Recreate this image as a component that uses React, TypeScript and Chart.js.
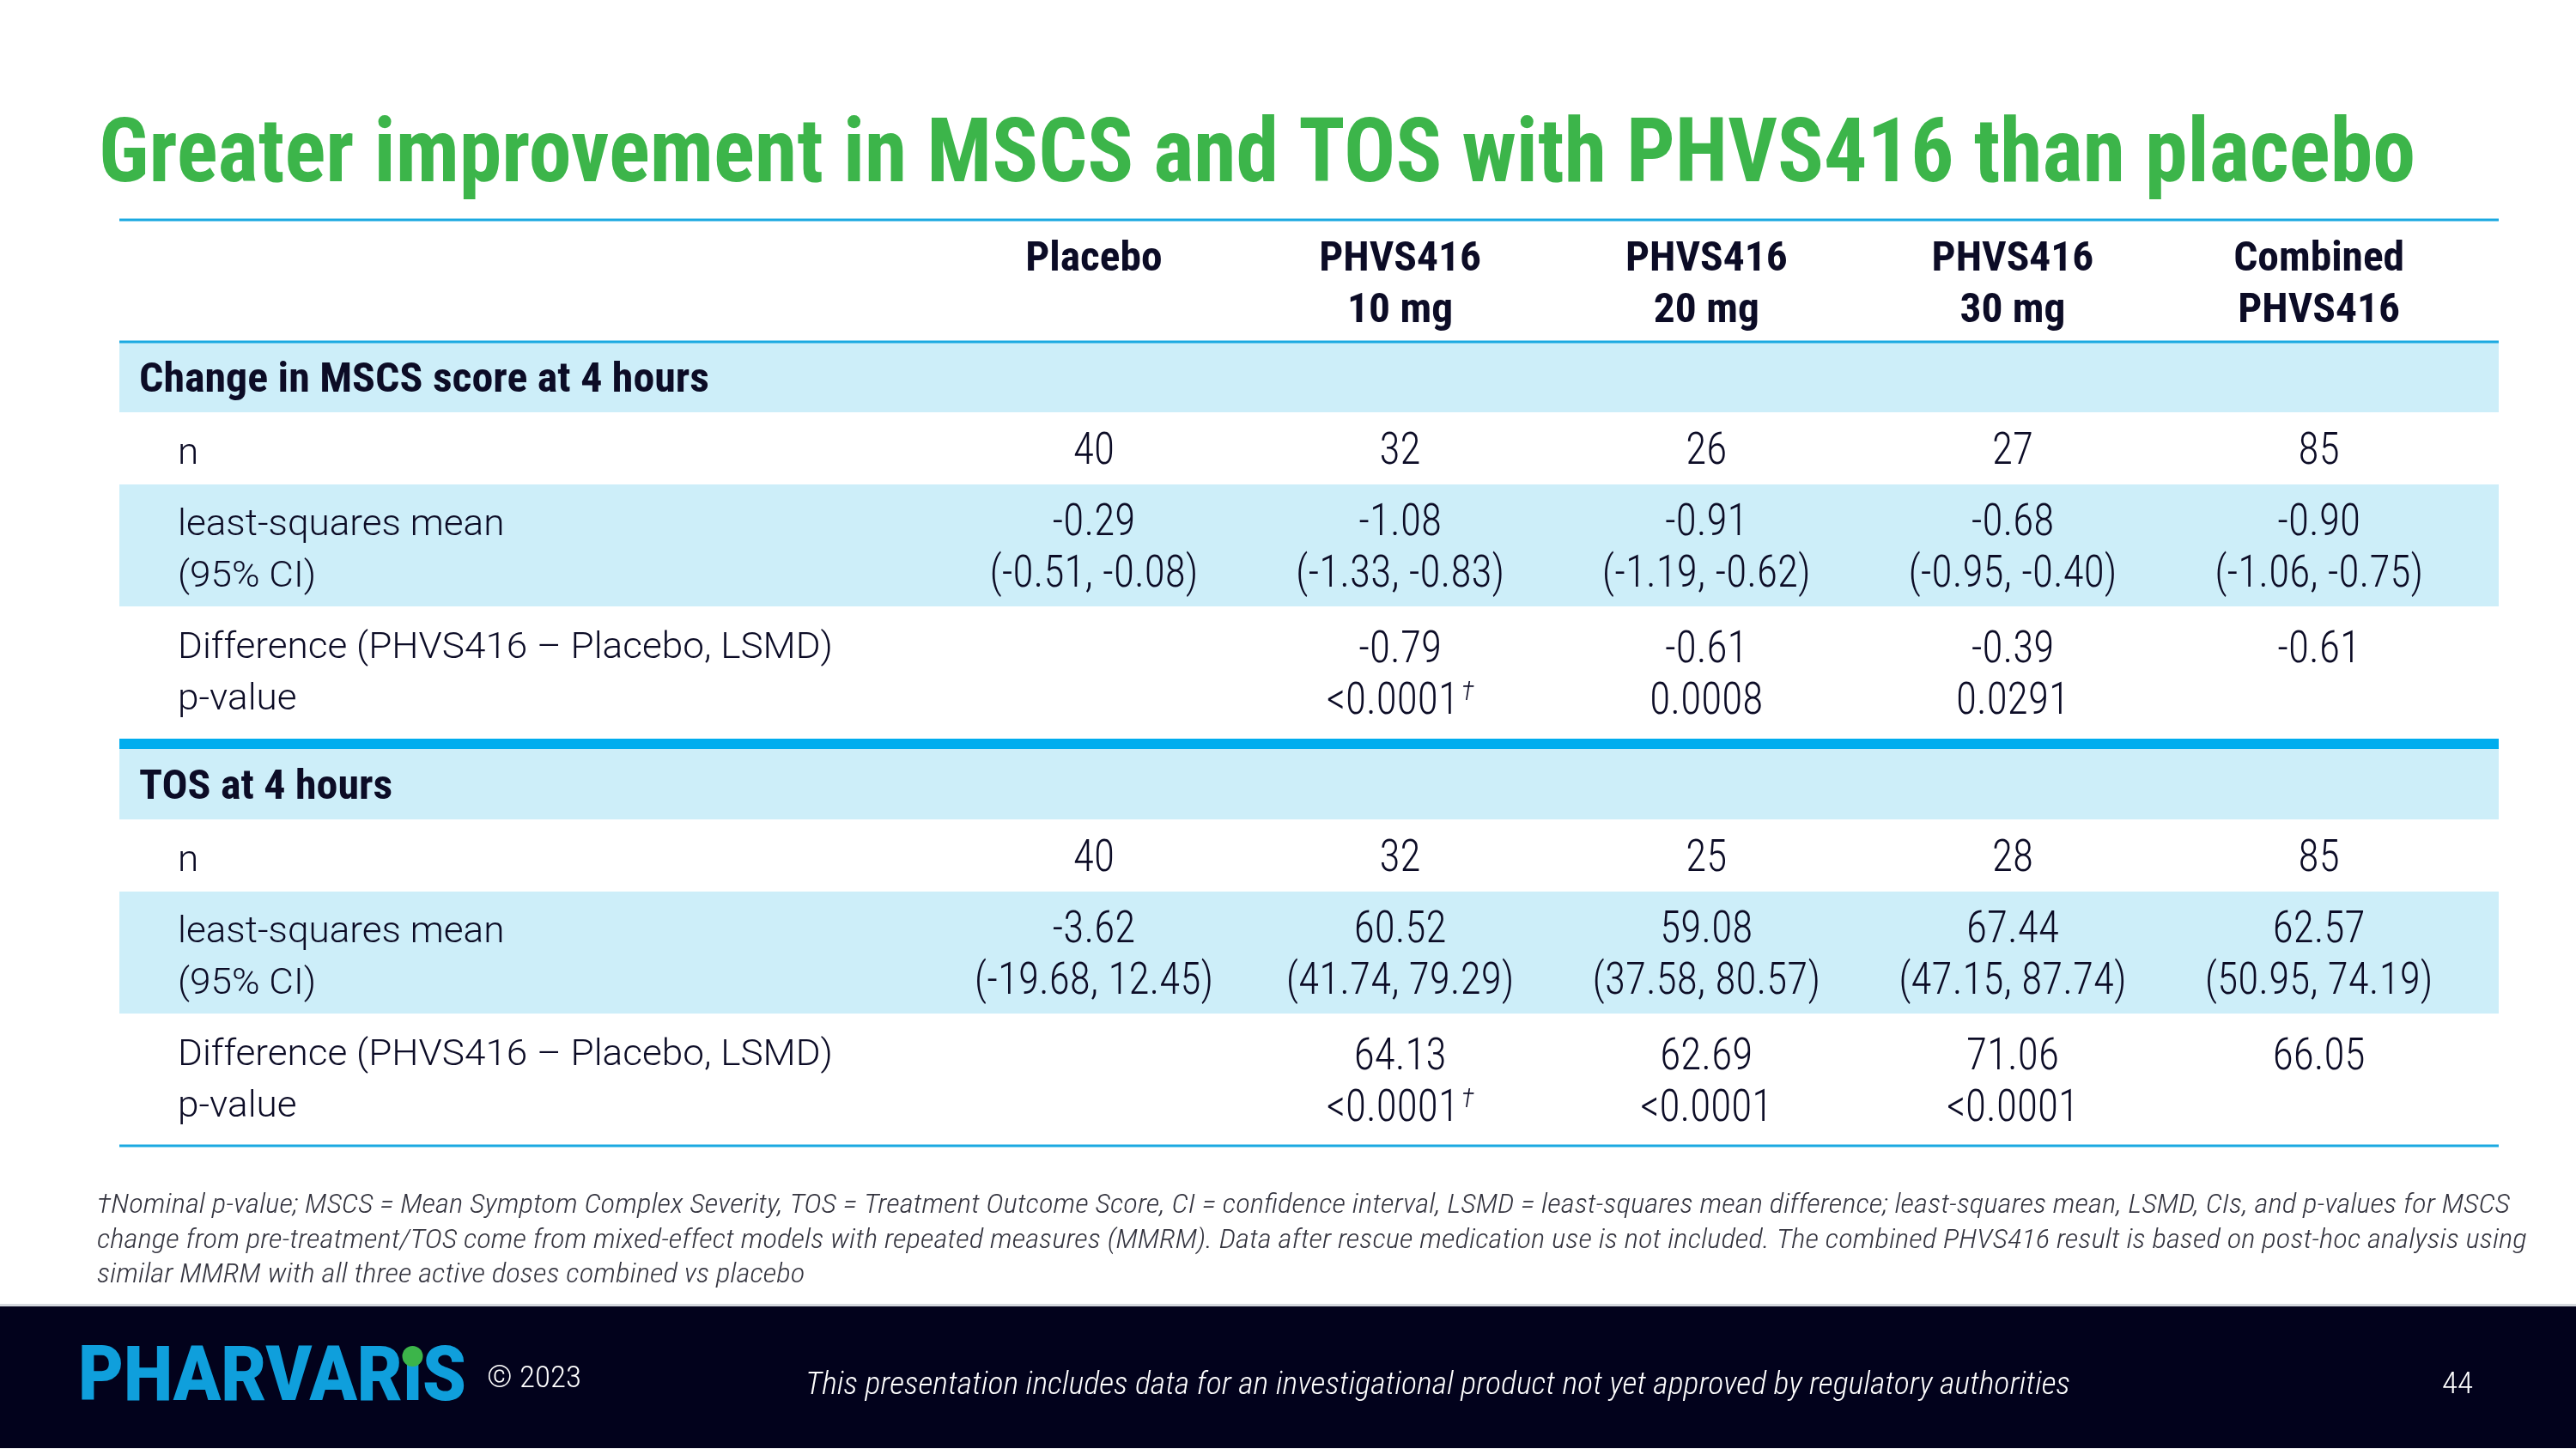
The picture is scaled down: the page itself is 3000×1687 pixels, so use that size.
import React, { useEffect, useRef } from "react";
import { Chart, registerables } from "chart.js";

Chart.register(...registerables);

// ---------------- DATA ----------------
const TITLE = "Greater improvement in MSCS and TOS with PHVS416 than placebo";
const columnHeadTop = ["Placebo", "PHVS416", "PHVS416", "PHVS416", "Combined"];
const columnHeadBottom = ["", "10 mg", "20 mg", "30 mg", "PHVS416"];
const columnIndex = [0, 1, 2, 3, 4];

const sectionTitles = ["Change in MSCS score at 4 hours", "TOS at 4 hours"];
const rowLabelN = ["n"];
const rowLabelMean = ["least-squares mean", "(95% CI)"];
const rowLabelDiff = ["Difference (PHVS416 \u2013 Placebo, LSMD)", "p-value"];

const mscsN = [40, 32, 26, 27, 85];
const mscsMean = [-0.29, -1.08, -0.91, -0.68, -0.9];
const mscsCiLow = [-0.51, -1.33, -1.19, -0.95, -1.06];
const mscsCiHigh = [-0.08, -0.83, -0.62, -0.4, -0.75];
const mscsDiff: (number | null)[] = [null, -0.79, -0.61, -0.39, -0.61];
const mscsP: (string | null)[] = [null, "<0.0001", "0.0008", "0.0291", null];
const mscsNominal = [false, true, false, false, false];

const tosN = [40, 32, 25, 28, 85];
const tosMean = [-3.62, 60.52, 59.08, 67.44, 62.57];
const tosCiLow = [-19.68, 41.74, 37.58, 47.15, 50.95];
const tosCiHigh = [12.45, 79.29, 80.57, 87.74, 74.19];
const tosDiff: (number | null)[] = [null, 64.13, 62.69, 71.06, 66.05];
const tosP: (string | null)[] = [null, "<0.0001", "<0.0001", "<0.0001", null];
const tosNominal = [false, true, false, false, false];

const footnoteLines = [
  "\u2020Nominal p-value; MSCS = Mean Symptom Complex Severity, TOS = Treatment Outcome Score, CI = confidence interval, LSMD = least-squares mean difference; least-squares mean, LSMD, CIs, and p-values for MSCS",
  "change from pre-treatment/TOS come from mixed-effect models with repeated measures (MMRM). Data after rescue medication use is not included. The combined PHVS416 result is based on post-hoc analysis using",
  "similar MMRM with all three active doses combined vs placebo",
];
const footerCopyright = "\u00a9 2023";
const footerDisclaimer =
  "This presentation includes data for an investigational product not yet approved by regulatory authorities";
const pageNumber = "44";
const logoParts = ["PHARVAR", "\u0131", "S"];

// ---------------- LAYOUT / STYLE ----------------
const W = 3000;
const H = 1687;
const ROW_SPANS = { header: 142, section: 82, n: 84, mean: 142, diff: 154, divider: 12 };
const LINE_PITCH = 60;
const INK = "#0c0c26";
const GREEN = "#3cb54a";
const LINE_BLUE = "#1ba9e1";
const DIVIDER_BLUE = "#00adee";
const BAND = "#cdeef9";
const FOOT_BG = "#02021c";
const LOGO_BLUE = "#0f9fdc";
const NOTE_INK = "#34343f";
const F_COND = "'Roboto Condensed', Roboto, 'Liberation Sans Narrow', sans-serif";
const F_REG = "Roboto, 'Liberation Sans', sans-serif";

const fmt = (v: number) => v.toFixed(2);

type Row = {
  kind: "header" | "section" | "n" | "mean" | "diff" | "divider";
  span: number;
  title?: string;
  labels?: string[];
  cells?: string[][];
  dagger?: boolean[];
};

function sectionRows(
  title: string,
  n: number[],
  mean: number[],
  lo: number[],
  hi: number[],
  diff: (number | null)[],
  p: (string | null)[],
  nominal: boolean[]
): Row[] {
  return [
    { kind: "section", span: ROW_SPANS.section, title },
    { kind: "n", span: ROW_SPANS.n, labels: rowLabelN, cells: n.map((v) => [String(v)]) },
    {
      kind: "mean",
      span: ROW_SPANS.mean,
      labels: rowLabelMean,
      cells: mean.map((m, i) => [fmt(m), `(${fmt(lo[i])}, ${fmt(hi[i])})`]),
    },
    {
      kind: "diff",
      span: ROW_SPANS.diff,
      labels: rowLabelDiff,
      cells: diff.map((d, i) => (d == null ? [] : p[i] == null ? [fmt(d)] : [fmt(d), p[i] as string])),
      dagger: nominal,
    },
  ];
}

const rows: Row[] = [
  { kind: "header", span: ROW_SPANS.header },
  ...sectionRows(sectionTitles[0], mscsN, mscsMean, mscsCiLow, mscsCiHigh, mscsDiff, mscsP, mscsNominal),
  { kind: "divider", span: ROW_SPANS.divider },
  ...sectionRows(sectionTitles[1], tosN, tosMean, tosCiLow, tosCiHigh, tosDiff, tosP, tosNominal),
];
const totalSpan = rows.reduce((s, r) => s + r.span, 0);

// ---------------- DRAW HELPERS ----------------
function fitScale(ctx: CanvasRenderingContext2D, font: string, sample: string, target: number) {
  ctx.font = font;
  const w = ctx.measureText(sample).width;
  return w > 0 ? target / w : 1;
}

function drawText(
  ctx: CanvasRenderingContext2D,
  text: string,
  x: number,
  y: number,
  font: string,
  color: string,
  align: "left" | "center" | "right",
  sx: number
) {
  ctx.save();
  ctx.font = font;
  ctx.fillStyle = color;
  ctx.textAlign = "left";
  ctx.textBaseline = "alphabetic";
  const w = ctx.measureText(text).width * sx;
  const x0 = align === "center" ? x - w / 2 : align === "right" ? x - w : x;
  ctx.translate(x0, y);
  ctx.scale(sx, 1);
  ctx.fillText(text, 0, 0);
  ctx.restore();
  return w;
}

function textWidth(ctx: CanvasRenderingContext2D, text: string, font: string, sx: number) {
  ctx.save();
  ctx.font = font;
  const w = ctx.measureText(text).width * sx;
  ctx.restore();
  return w;
}

const slidePlugin = {
  id: "slideTable",
  afterDraw(chart: any) {
    const ctx: CanvasRenderingContext2D = chart.ctx;
    const xs = chart.scales.x;
    const ys = chart.scales.y;
    const { left, right } = chart.chartArea;

    const fTitle = `bold 103px ${F_COND}`;
    const fHead = `bold 49px ${F_COND}`;
    const fSection = `bold 48px ${F_COND}`;
    const fLabel = `300 43px ${F_REG}`;
    const fData = `300 51px ${F_COND}`;
    const fDagger = `italic 300 32px ${F_COND}`;
    const fNote = `italic 300 31px ${F_COND}`;
    const fDisc = `italic 300 36px ${F_COND}`;
    const fCopy = `300 35px ${F_COND}`;
    const fLogo = `900 89px ${F_REG}`;

    const sTitle = fitScale(ctx, fTitle, TITLE, 2698);
    const sHead = fitScale(ctx, fHead, columnHeadTop[4], 199);
    const sSection = fitScale(ctx, fSection, sectionTitles[0], 664);
    const sLabel = fitScale(ctx, fLabel, rowLabelDiff[0], 763);
    const meanRow = rows.find((r) => r.kind === "mean")!;
    const sData = fitScale(ctx, fData, meanRow.cells![0][1], 243);
    const sNote = fitScale(ctx, fNote, footnoteLines[0], 2810);
    const sDisc = fitScale(ctx, fDisc, footerDisclaimer, 1473);
    const sCopy = fitScale(ctx, fCopy, footerCopyright, 110);

    ctx.save();
    ctx.fillStyle = "#ffffff";
    ctx.fillRect(0, 0, chart.width, chart.height);

    // Title
    drawText(ctx, TITLE, 115, 211, fTitle, GREEN, "left", sTitle);

    // Rows
    let cum = 0;
    const lineRects: { y: number; h: number; color: string }[] = [];
    rows.forEach((row, ri) => {
      const top = ys.getPixelForValue(cum);
      const bottom = ys.getPixelForValue(cum + row.span);
      const cy = (top + bottom) / 2;
      cum += row.span;

      if (row.kind === "section" || row.kind === "mean") {
        ctx.fillStyle = BAND;
        ctx.fillRect(left, top, right - left, bottom - top);
      }
      if (row.kind === "divider") {
        lineRects.push({ y: top, h: bottom - top, color: DIVIDER_BLUE });
        return;
      }
      if (row.kind === "header") {
        lineRects.push({ y: top - 1.5, h: 3, color: LINE_BLUE });
        lineRects.push({ y: bottom - 1.5, h: 3, color: LINE_BLUE });
        columnIndex.forEach((ci) => {
          const cx = xs.getPixelForValue(ci);
          drawText(ctx, columnHeadTop[ci], cx, cy - LINE_PITCH / 2 + 17.5, fHead, INK, "center", sHead);
          if (columnHeadBottom[ci])
            drawText(ctx, columnHeadBottom[ci], cx, cy + LINE_PITCH / 2 + 17.5, fHead, INK, "center", sHead);
        });
        return;
      }
      if (ri === rows.length - 1) {
        lineRects.push({ y: bottom - 1.5, h: 3, color: LINE_BLUE });
      }
      if (row.kind === "section") {
        drawText(ctx, row.title!, left + 23, cy + 17, fSection, INK, "left", sSection);
        return;
      }
      const slots = row.kind === "n" ? 1 : 2;
      const baselineFor = (i: number) =>
        slots === 1 ? cy + 18 : cy + (i - 0.5) * LINE_PITCH + 18;
      const labelShift = row.kind === "diff" ? -5 : 0;
      row.labels!.forEach((lab, i) => {
        drawText(ctx, lab, left + 68, baselineFor(i) + labelShift, fLabel, INK, "left", sLabel);
      });
      row.cells!.forEach((lines, ci) => {
        const cx = xs.getPixelForValue(columnIndex[ci]);
        lines.forEach((txt, li) => {
          const by = baselineFor(li);
          const withDagger = row.kind === "diff" && li === 1 && row.dagger && row.dagger[ci];
          if (withDagger) {
            const mw = textWidth(ctx, txt, fData, sData);
            const dw = textWidth(ctx, "\u2020", fDagger, sData);
            const total = mw + 3 + dw;
            const x0 = cx - total / 2;
            drawText(ctx, txt, x0, by, fData, INK, "left", sData);
            drawText(ctx, "\u2020", x0 + mw + 3, by - 16, fDagger, INK, "left", sData);
          } else {
            drawText(ctx, txt, cx, by, fData, INK, "center", sData);
          }
        });
      });
    });
    lineRects.forEach((r) => {
      ctx.fillStyle = r.color;
      ctx.fillRect(left, r.y, right - left, r.h);
    });

    // Footnote
    footnoteLines.forEach((ln, i) => {
      drawText(ctx, ln, 113, 1412 + i * 40.5, fNote, NOTE_INK, "left", sNote);
    });

    // Footer
    ctx.fillStyle = "#d5d9de";
    ctx.fillRect(0, 1518, W, 3);
    ctx.fillStyle = FOOT_BG;
    ctx.fillRect(0, 1521, W, 165);

    // Logo
    ctx.font = fLogo;
    const wParts = logoParts.map((p) => ctx.measureText(p).width);
    const sLogo = 452 / wParts.reduce((a, b) => a + b, 0);
    let lx = 91;
    logoParts.forEach((p, i) => {
      drawText(ctx, p, lx, 1630, fLogo, LOGO_BLUE, "left", sLogo);
      if (i === 1) {
        ctx.fillStyle = GREEN;
        ctx.beginPath();
        ctx.arc(lx + (wParts[i] * sLogo) / 2, 1579, 12, 0, Math.PI * 2);
        ctx.fill();
      }
      lx += wParts[i] * sLogo;
    });

    drawText(ctx, footerCopyright, 567, 1615, fCopy, "#ffffff", "left", sCopy);
    drawText(ctx, footerDisclaimer, 938, 1623, fDisc, "#ffffff", "left", sDisc);
    drawText(ctx, pageNumber, 2880, 1622, fCopy, "#ffffff", "right", sCopy);

    ctx.restore();
  },
};

export default function App() {
  const canvasRef = useRef<HTMLCanvasElement>(null);

  useEffect(() => {
    const canvas = canvasRef.current;
    if (!canvas) return;
    const chart = new Chart(canvas, {
      type: "scatter",
      data: { datasets: [] },
      options: {
        animation: false,
        responsive: false,
        maintainAspectRatio: false,
        devicePixelRatio: 1,
        events: [],
        layout: { padding: { left: 139, right: W - 2910, top: 256, bottom: H - 1334 } },
        plugins: {
          legend: { display: false },
          tooltip: { enabled: false },
          title: { display: false },
        },
        scales: {
          x: { type: "linear", display: false, min: -3.182, max: 4.587 },
          y: { type: "linear", display: false, reverse: true, min: 0, max: totalSpan },
        },
      },
      plugins: [slidePlugin],
    } as any);
    return () => chart.destroy();
  }, []);

  return (
    <div style={{ position: "absolute", left: 0, top: 0, width: W, height: H, background: "#fff" }}>
      <canvas ref={canvasRef} width={W} height={H} style={{ display: "block" }} />
    </div>
  );
}
